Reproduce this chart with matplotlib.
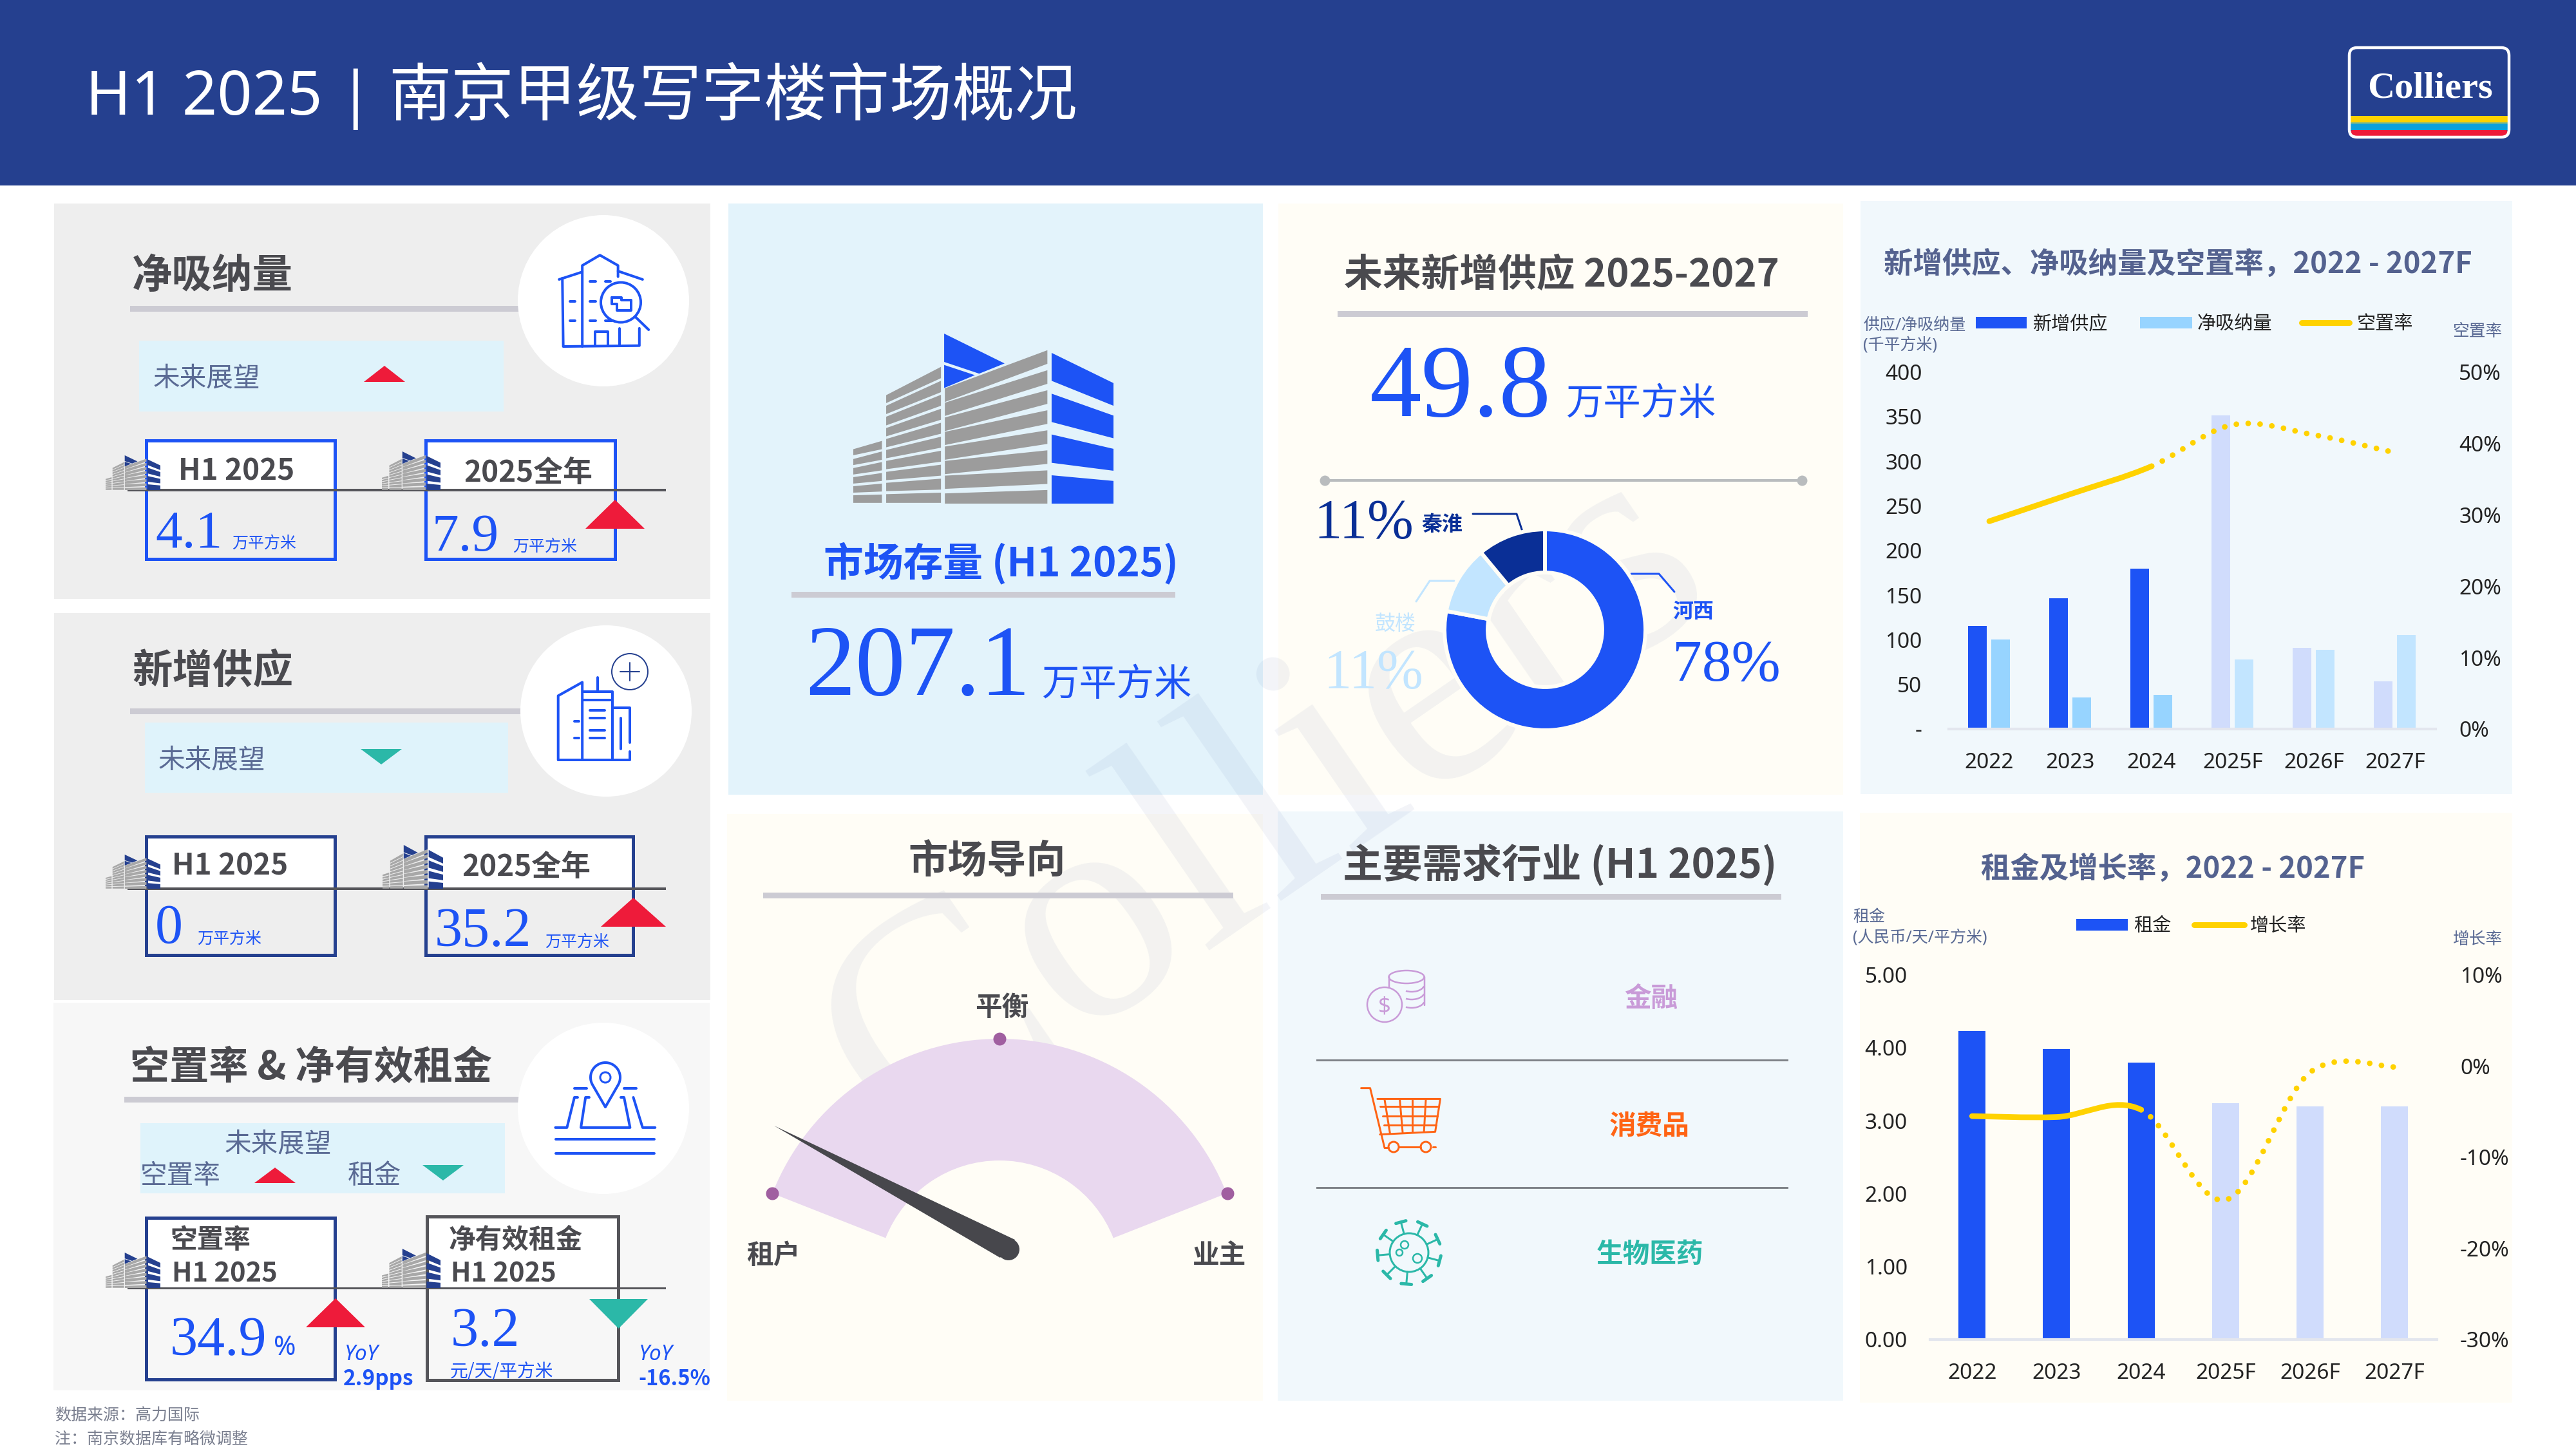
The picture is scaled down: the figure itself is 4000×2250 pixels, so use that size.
import numpy as np
import matplotlib
matplotlib.use('Agg')
import matplotlib.pyplot as plt
from matplotlib.patches import Rectangle, Circle, Ellipse, Polygon, Wedge, PathPatch, FancyBboxPatch, Arc
from matplotlib.path import Path

# chart data
years = ['2022', '2023', '2024', '2025F', '2026F', '2027F']
new_supply = [115.5, 146.5, 180, 351.5, 91, 53.5]
net_absorption = [100, 35.5, 38.5, 78, 89, 105]
vacancy = [29.1, 32.9, 36.8, 42.6, 41.2, 38.7]
rent = [4.23, 3.98, 3.80, 3.24, 3.20, 3.20]
rent_growth = [-5.5, -5.6, -4.8, -14.7, -0.7, -0.1]
n_actual = 3  # 2022-2024 are actuals, the rest are forecast

supply_ticks = [0, 50, 100, 150, 200, 250, 300, 350, 400]
supply_tick_labels = ['-', '50', '100', '150', '200', '250', '300', '350', '400']
vacancy_ticks = [0, 10, 20, 30, 40, 50]
rent_ticks = [0, 1, 2, 3, 4, 5]
growth_ticks = [-30, -20, -10, 0, 10]

district_values = [78, 11, 11]

# colours
NAVY = '#25408F'
BLUE = '#1D53F5'
BLUE_F = '#D0DCFC'
SKY = '#97D4FF'
SKY_F = '#C2E5FF'
DARKBLUE = '#0A2F96'
YELLOW = '#FFD200'
RED = '#EE1B3A'
TEAL = '#2BB8A8'
DARK = '#4A4A4F'
SLATE = '#5A6A94'
TITLE_SLATE = '#54628F'
RULE = '#CCCBD3'
CREAM = '#FFFDF6'
PALE = '#F1F8FC'
OUTLOOK = '#DFF3FB'
LILAC = '#C99BD8'
ORANGE = '#FF6414'

SANS = ['Noto Sans', 'Noto Sans CJK SC']
CJK = ['Noto Sans CJK SC', 'Noto Sans']
SERIF = ['Liberation Serif']

fig = plt.figure(figsize=(40, 22.5), dpi=100, facecolor='white')
ax = fig.add_axes([0, 0, 1, 1])
ax.set_xlim(0, 4000)
ax.set_ylim(2250, 0)
ax.axis('off')


def px(v):
    # pixels to points at dpi 100
    return v * 0.72


def rect(x0, y0, x1, y1, fc, z=1, ec='none', lw=0):
    ax.add_patch(Rectangle((x0, y0), x1 - x0, y1 - y0, facecolor=fc, edgecolor=ec, linewidth=px(lw), zorder=z))


def txt(x, y, s, size, color=DARK, weight='normal', ha='left', va='center', family=SANS, style='normal', z=6):
    if weight == 'bold':
        family = CJK  # Noto Sans has no bold installed
    if va == 'center':
        y = y + 0.13 * size  # bbox centre sits a bit above the glyph centre
    ax.text(x, y, s, fontsize=size, color=color, fontweight=weight, ha=ha, va=va,
            family=family, fontstyle=style, zorder=z)


def tri(x0, x1, y0, y1, up, color):
    if up:
        pts = [(x0, y1), (x1, y1), ((x0 + x1) / 2, y0)]
    else:
        pts = [(x0, y0), (x1, y0), ((x0 + x1) / 2, y1)]
    ax.add_patch(Polygon(pts, closed=True, facecolor=color, edgecolor='none', zorder=5))


def lines(segs, color, lw, ox=0, oy=0, sx=1.0, sy=1.0, z=4):
    # polylines traced in zoomed coordinates, mapped back to the page
    for seg in segs:
        seg = np.array(seg, dtype=float)
        ax.plot(ox + seg[:, 0] / sx, oy + seg[:, 1] / sy, color=color, lw=px(lw), zorder=z,
                solid_capstyle='round', solid_joinstyle='round')


def rule(x0, x1, y, h=9):
    rect(x0, y - h / 2, x1, y + h / 2, RULE, z=2)


# building drawing, in its own 736x450 coordinates
BLUE_PARTS = [
    [(257, 0), (428, 79), (356, 106), (257, 75)],
    [(257, 83), (344, 110), (257, 144)],
    [(561, 51), (736, 131), (736, 191), (561, 125)],
    [(561, 159), (736, 217), (736, 277), (561, 234)],
    [(561, 267), (736, 305), (736, 363), (561, 342)],
    [(561, 375), (736, 390), (736, 450), (561, 450)],
]
center_l = [(145, 181), (183, 218), (222, 258), (260, 295), (299, 334), (337, 372), (376, 411), (423, 450)]
center_r = [(44, 80), (97, 133), (150, 186), (203, 239), (256, 292), (309, 345), (362, 398), (414, 450)]
left_l = [(163, 184), (191, 213), (220, 243), (250, 272), (279, 301), (308, 330), (337, 359), (366, 388), (395, 417), (425, 448)]
left_r = [(88, 118), (125, 155), (162, 191), (199, 228), (236, 265), (273, 302), (310, 339), (347, 376), (384, 413), (421, 448)]
small_l = [(306, 322), (332, 348), (356, 373), (380, 397), (404, 421), (428, 448)]
small_r = [(284, 306), (312, 334), (340, 362), (369, 390), (397, 418), (426, 448)]
GREY_PARTS = []
for a, b in zip(center_l, center_r):
    GREY_PARTS.append([(259, a[0]), (549, b[0]), (549, b[1]), (259, a[1])])
for a, b in zip(left_l, left_r):
    GREY_PARTS.append([(93, a[0]), (248, b[0]), (248, b[1]), (93, a[1])])
for a, b in zip(small_l, small_r):
    GREY_PARTS.append([(0, a[0]), (81, b[0]), (81, b[1]), (0, a[1])])


def building(x0, y0, x1, y1, blue, grey='#9C9C9C', z=4):
    fx = (x1 - x0) / 736
    fy = (y1 - y0) / 450
    for parts, col in ((GREY_PARTS, grey), (BLUE_PARTS, blue)):
        for p in parts:
            pts = [(x0 + a * fx, y0 + b * fy) for a, b in p]
            ax.add_patch(Polygon(pts, closed=True, facecolor=col, edgecolor='none', zorder=z))


def kpi_box(x0, x1, y0, y_line, y1, color, lw=5):
    rect(x0, y0, x1, y_line, 'white', z=2)
    ax.add_patch(Rectangle((x0, y0), x1 - x0, y1 - y0, fill=False, edgecolor=color, linewidth=px(lw), zorder=3))


def smooth_path(xs, ys, i0, i1):
    # same kind of smoothing as a spreadsheet "smoothed line"
    p = np.column_stack([xs, ys]).astype(float)
    m = np.zeros_like(p)
    m[1:-1] = (p[2:] - p[:-2]) / 2
    m[0] = (p[1] - p[0]) / 2
    m[-1] = (p[-1] - p[-2]) / 2
    verts = [tuple(p[i0])]
    codes = [Path.MOVETO]
    for i in range(i0, i1):
        verts += [tuple(p[i] + m[i] / 3), tuple(p[i + 1] - m[i + 1] / 3), tuple(p[i + 1])]
        codes += [Path.CURVE4] * 3
    return Path(verts, codes)


def combo_axes(x0, y0, x1, y1):
    a = fig.add_axes([x0 / 4000, 1 - y1 / 2250, (x1 - x0) / 4000, (y1 - y0) / 2250], facecolor='none', zorder=3)
    a.set_xlim(-0.5, 5.5)
    for s in ('top', 'left', 'right'):
        a.spines[s].set_visible(False)
    a.spines['bottom'].set_color('#E3E6EE')
    a.spines['bottom'].set_linewidth(3)
    a.set_xticks(range(len(years)))
    a.set_xticklabels(years, fontsize=24, color='#222222', family=SANS)
    a.tick_params(axis='x', length=0, pad=26)
    b = a.twinx()
    b.patch.set_visible(False)
    b.set_xlim(-0.5, 5.5)
    for s in b.spines.values():
        s.set_visible(False)
    return a, b


def trend(b, values, lw=6.3):
    xs = np.arange(len(values))
    b.add_patch(PathPatch(smooth_path(xs, values, 0, n_actual - 1), fill=False, edgecolor=YELLOW,
                          linewidth=lw, capstyle='round'))
    b.add_patch(PathPatch(smooth_path(xs, values, n_actual - 1, len(values) - 1), fill=False, edgecolor=YELLOW,
                          linewidth=lw, capstyle='round', linestyle=(0, (0.01, 2.1))))


# header
rect(0, 0, 4000, 288, NAVY)
txt(133, 145, 'H1 2025', 68.5, 'white')
txt(552, 145, '|', 68.5, 'white', ha='center')
txt(603, 145, '南京甲级写字楼市场概况', 70, 'white')

# logo
rect(3650, 180, 3894, 190, YELLOW, z=3)
rect(3650, 190, 3894, 192, '#7DB88A', z=3)
rect(3650, 192, 3894, 202, '#0DA0DC', z=3)
ax.add_patch(FancyBboxPatch((3650, 202), 244, 9, boxstyle='round,pad=0,rounding_size=3', facecolor=RED, edgecolor='none', zorder=3))
ax.add_patch(FancyBboxPatch((3648, 74), 248, 139, boxstyle='round,pad=0,rounding_size=12', fill=False,
                            edgecolor='white', linewidth=px(4.5), zorder=4))
ax.text(3773, 152, 'Colliers', fontsize=42, color='white', fontweight='bold', ha='center', va='baseline', family=SERIF, zorder=6)

# panels
rect(84, 316, 1103, 930, '#EEEEEE')
rect(84, 952, 1103, 1553, '#EEEEEE')
rect(83, 1557, 1102, 2159, '#F7F7F7')
rect(1131, 316, 1961, 1234, '#E3F3FB')
rect(1985, 316, 2862, 1234, CREAM)
rect(2889, 312, 3901, 1233, PALE)
rect(1129, 1264, 1961, 2175, CREAM)
rect(1984, 1260, 2862, 2175, PALE)
rect(2888, 1262, 3901, 2178, CREAM)

# watermark
ax.text(2033, 1355, 'Colliers', fontsize=351, family=SERIF, color='#25408F', alpha=0.06,
        rotation=34.6, rotation_mode='anchor', ha='center', va='baseline', zorder=1.5)

# net absorption panel
txt(205, 423, '净吸纳量', 45, weight='bold')
rule(202, 806, 479)
ax.add_patch(Circle((937, 467), 133, facecolor='white', edgecolor='none', zorder=3))
rect(216, 529, 782, 639, OUTLOOK, z=2)
txt(238, 584, '未来展望', 30, SLATE, family=CJK)
tri(565, 629, 568, 593, True, RED)
kpi_box(227, 520, 684, 761, 868, BLUE)
kpi_box(661, 955, 684, 761, 868, BLUE)
rect(198, 759, 1034, 763, '#55555A', z=4)
building(164, 707, 249, 761, NAVY, grey='#A8A8A8')
building(593, 701, 684, 761, NAVY, grey='#A8A8A8')
txt(277, 728, 'H1 2025', 33, weight='bold')
txt(720, 731, '2025全年', 33, weight='bold')
txt(241, 850, '4.1', 60, BLUE, va='baseline', family=SERIF)
txt(360, 841, '万平方米', 18, BLUE, family=CJK)
txt(670, 855, '7.9', 60, BLUE, va='baseline', family=SERIF)
txt(796, 846, '万平方米', 18, BLUE, family=CJK)
tri(909, 1001, 776, 821, True, RED)

# icon: building with magnifier
Z1 = dict(ox=0, oy=280, sx=1.388, sy=2.306)
lines([[(1205, 355), (1255, 328)], [(1212, 350), (1214, 595), (1378, 592), (1378, 530)],
       [(1255, 595), (1255, 305), (1293, 268), (1332, 305), (1332, 345)], [(1332, 325), (1385, 355)],
       [(1282, 590), (1282, 543), (1310, 543), (1310, 590)], [(1335, 590), (1335, 530)],
       [(1228, 433), (1240, 433)], [(1272, 433), (1284, 433)], [(1228, 503), (1240, 503)],
       [(1272, 503), (1284, 503)], [(1272, 363), (1284, 363)], [(1305, 363), (1316, 363)],
       [(1305, 502), (1318, 502)], [(1370, 490), (1398, 535)],
       [(1318, 420), (1340, 420), (1340, 430), (1360, 430), (1360, 465), (1330, 465), (1330, 442), (1318, 442), (1318, 420)]],
      BLUE, 4, z=5, **Z1)
ax.add_patch(Circle((964, 469.5), 31, fill=False, edgecolor=BLUE, linewidth=px(4), zorder=5))

# new supply panel
txt(205, 1037, '新增供应', 45, weight='bold')
rule(202, 810, 1104)
ax.add_patch(Circle((941, 1104), 133, facecolor='white', edgecolor='none', zorder=3))
rect(225, 1122, 789, 1231, OUTLOOK, z=2)
txt(246, 1177, '未来展望', 30, SLATE, family=CJK)
tri(560, 624, 1163, 1187, False, TEAL)
kpi_box(227, 520, 1299, 1380, 1483, NAVY)
kpi_box(661, 983, 1299, 1380, 1483, NAVY)
rect(198, 1378, 1034, 1382, '#55555A', z=4)
building(164, 1327, 249, 1380, NAVY, grey='#A8A8A8')
building(594, 1312, 688, 1380, NAVY, grey='#A8A8A8')
txt(267, 1341, 'H1 2025', 33, weight='bold')
txt(717, 1343, '2025全年', 33, weight='bold')
txt(241, 1464, '0', 62, BLUE, va='baseline', family=SERIF)
txt(306, 1455, '万平方米', 18, BLUE, family=CJK)
txt(675, 1469, '35.2', 62, BLUE, va='baseline', family=SERIF)
txt(846, 1460, '万平方米', 18, BLUE, family=CJK)
tri(933, 1034, 1394, 1439, True, RED)

# icon: tower with plus
Z2 = dict(ox=0, oy=940, sx=1.388, sy=2.529)
lines([[(1203, 607), (1358, 607), (1358, 575)], [(1203, 607), (1203, 355), (1255, 302), (1255, 605)],
       [(1258, 340), (1320, 340), (1320, 605)], [(1258, 372), (1320, 372)], [(1288, 283), (1288, 340)],
       [(1320, 402), (1358, 402), (1358, 538)], [(1338, 442), (1338, 565)],
       [(1272, 411), (1303, 411)], [(1272, 443), (1303, 443)], [(1272, 491), (1303, 491)], [(1272, 522), (1303, 522)],
       [(1238, 456), (1248, 456)], [(1238, 522), (1248, 522)]], BLUE, 4, z=5, **Z2)
lines([[(1337, 260), (1378, 260)], [(1357, 225), (1357, 295)]], NAVY, 2, z=5, **Z2)
ax.add_patch(Circle((978, 1043), 28, fill=False, edgecolor=NAVY, linewidth=px(2), zorder=5))

# vacancy and rent panel
txt(202, 1652, '空置率 & 净有效租金', 44, weight='bold')
rule(193, 806, 1707)
ax.add_patch(Circle((937, 1721), 133, facecolor='white', edgecolor='none', zorder=3))
rect(218, 1744, 784, 1853, OUTLOOK, z=2)
txt(349, 1773, '未来展望', 30, SLATE, family=CJK)
txt(218, 1823, '空置率', 30, SLATE, family=CJK)
tri(395, 459, 1813, 1837, True, RED)
txt(540, 1823, '租金', 30, SLATE, family=CJK)
tri(656, 720, 1809, 1833, False, TEAL)
kpi_box(227, 520, 1891, 2000, 2142, NAVY)
kpi_box(663, 960, 1889, 2000, 2143, '#55555A')
rect(198, 1998.5, 1034, 2001.5, '#55555A', z=4)
building(164, 1945, 249, 2000, NAVY, grey='#A8A8A8')
building(593, 1939, 684, 2000, NAVY, grey='#A8A8A8')
txt(264, 1922, '空置率', 30, weight='bold')
txt(267, 1975, 'H1 2025', 30, weight='bold')
txt(697, 1922, '净有效租金', 30, weight='bold')
txt(700, 1975, 'H1 2025', 30, weight='bold')
txt(264, 2104, '34.9', 62, BLUE, va='baseline', family=SERIF)
txt(425, 2104, '%', 30, BLUE, va='baseline')
txt(700, 2090, '3.2', 62, BLUE, va='baseline', family=SERIF)
txt(699, 2127, '元/天/平方米', 20, BLUE, family=CJK)
tri(475, 567, 2016, 2061, True, RED)
tri(915, 1006, 2017, 2063, False, TEAL)
txt(535, 2100, 'YoY', 24, BLUE, style='italic')
txt(533, 2138, '2.9pps', 24, BLUE, weight='bold')
txt(992, 2100, 'YoY', 24, BLUE, style='italic')
txt(991, 2138, '-16.5%', 23.5, BLUE, weight='bold')

# icon: location pin over road
Z3 = dict(ox=0, oy=1550, sx=1.388, sy=2.24)
lines([[(1238, 313), (1265, 313)], [(1345, 313), (1372, 313)],
       [(1197, 450), (1222, 450), (1238, 345), (1245, 345)], [(1270, 345), (1262, 345), (1252, 450), (1358, 450), (1345, 345), (1338, 345)],
       [(1365, 345), (1385, 450), (1412, 450)], [(1198, 490), (1410, 490)], [(1198, 540), (1410, 540)]],
      BLUE, 4, z=5, **Z3)
pin_t = np.radians(np.linspace(-30, 210, 40))
pin_x = 940 + 23 * np.cos(pin_t)
pin_y = 1673 - 23 * np.sin(pin_t)
ax.add_patch(Polygon(np.column_stack([np.r_[940, pin_x], np.r_[1719, pin_y]]), closed=True, facecolor='white',
                     edgecolor=BLUE, linewidth=px(4), joinstyle='round', zorder=5))
ax.add_patch(Circle((940, 1673), 8, fill=False, edgecolor=BLUE, linewidth=px(3), zorder=6))

# footer
txt(85, 2195, '数据来源：高力国际', 18, '#7A7F8F', family=CJK)
txt(85, 2233, '注：南京数据库有略微调整', 18, '#7A7F8F', family=CJK, style='italic')

# stock panel
building(1325, 518, 1729, 782, BLUE)
txt(1279, 869, '市场存量 (H1 2025)', 44.5, BLUE, weight='bold')
rule(1229, 1825, 923)
txt(1250, 1079, '207.1', 112, BLUE, va='baseline', family=SERIF)
txt(1617, 1058, '万平方米', 42, BLUE, family=CJK)

# future supply panel
txt(2087, 422, '未来新增供应 2025-2027', 43, weight='bold')
rule(2077, 2807, 487)
txt(2127, 646, '49.8', 116, BLUE, va='baseline', family=SERIF)
txt(2431, 622, '万平方米', 42, BLUE, family=CJK)
ax.plot([2057, 2798], [746, 746], color='#B9BCBE', lw=px(4), zorder=3)
ax.plot([2057, 2798], [746, 746], 'o', color='#B9BCBE', ms=px(16), mec='none', zorder=3)

ax_donut = fig.add_axes([(2399 - 156) / 4000, 1 - (978 + 156) / 2250, 312 / 4000, 312 / 2250], facecolor='none', zorder=3)
ax_donut.pie(district_values, colors=[BLUE, SKY_F, DARKBLUE], startangle=90, counterclock=False, radius=1.0,
             wedgeprops=dict(width=0.43, edgecolor=CREAM, linewidth=px(6)))
ax_donut.set_xlim(-1, 1)
ax_donut.set_ylim(-1, 1)

txt(2040, 835, '11%', 62, DARKBLUE, va='baseline', family=SERIF)
txt(2207, 812, '秦淮', 23, DARKBLUE, weight='bold')
lines([[(2287, 798), (2355, 798), (2365, 828)]], DARKBLUE, 3, z=4)
lines([[(2533, 891), (2576, 891), (2600, 919)]], BLUE, 3, z=4)
txt(2597, 947, '河西', 23, BLUE, weight='bold')
txt(2597, 1057, '78%', 66, BLUE, va='baseline', family=SERIF)
lines([[(2258, 902), (2220, 902), (2199, 934)]], SKY_F, 3, z=4)
txt(2135, 966, '鼓楼', 23, SKY_F, family=CJK)
txt(2055, 1068, '11%', 62, SKY_F, va='baseline', family=SERIF)

# market orientation gauge
txt(1533, 1333, '市场导向', 44, weight='bold', ha='center')
rule(1185, 1915, 1390)
ax.add_patch(Wedge((1552, 1992), 379, -158.5, -21.5, width=189, facecolor='#E9D8EF', edgecolor='none', zorder=3))
ax.plot([1199, 1552, 1906], [1853, 1613, 1853], 'o', color='#A05FA0', ms=px(20), mec='none', zorder=4)
txt(1556, 1561, '平衡', 30, weight='bold', ha='center')
txt(1201, 1946, '租户', 30, weight='bold', ha='center')
txt(1893, 1946, '业主', 30, weight='bold', ha='center')
ax.add_patch(Polygon([(1202, 1748), (1576, 1925), (1553, 1953)], closed=True, facecolor='#47474C', edgecolor='none', zorder=5))
ax.add_patch(Circle((1566, 1940), 17, facecolor='#47474C', edgecolor='none', zorder=5))

# demand sectors
txt(2085, 1338, '主要需求行业 (H1 2025)', 44.5, weight='bold')
rule(2051, 2766, 1392)
rect(2044, 1644.5, 2777, 1647.5, '#7F8388', z=2)
rect(2044, 1842.5, 2777, 1845.5, '#7F8388', z=2)
txt(2564, 1547, '金融', 30, LILAC, weight='bold', ha='center')
txt(2561, 1745, '消费品', 30, ORANGE, weight='bold', ha='center')
txt(2562, 1944, '生物医药', 30, TEAL, weight='bold', ha='center')

# coins icon
Z9 = dict(ox=1980, oy=1240, sx=1.782, sy=1.668)
ax.add_patch(Circle((2150, 1560), 27, fill=False, edgecolor=LILAC, linewidth=px(2.5), zorder=4))
txt(2150, 1560, '$', 25, LILAC, ha='center')
ax.add_patch(Ellipse((2184, 1517), 55, 20, fill=False, edgecolor=LILAC, linewidth=px(2.5), zorder=4))
lines([[(316, 462), (316, 488)], [(413, 462), (413, 535)]], LILAC, 2.5, **Z9)
for band_y in [1540, 1552, 1565]:
    ax.add_patch(Arc((2192, band_y - 12), 40, 24, theta1=10, theta2=130, edgecolor=LILAC, linewidth=px(2.5), zorder=4))

# cart icon
lines([[(238, 750), (263, 750), (303, 905), (315, 905)],
       [(283, 778), (457, 778), (443, 863), (290, 870)],
       [(290, 798), (453, 798)], [(297, 822), (449, 822)], [(302, 845), (445, 845)],
       [(303, 780), (318, 868)], [(345, 780), (353, 866)], [(380, 780), (380, 864)], [(417, 780), (412, 862)],
       [(342, 902), (403, 902)], [(437, 902), (444, 902)]], ORANGE, 3, **Z9)
for wheel_x in [2164, 2214]:
    ax.add_patch(Circle((wheel_x, 1781), 8, fill=False, edgecolor=ORANGE, linewidth=px(3), zorder=4))

# virus icon
vc = (2188, 1945)
ax.add_patch(Circle(vc, 30, fill=False, edgecolor=TEAL, linewidth=px(3), zorder=4))
for deg in np.arange(0, 360, 40) + 15:
    u = np.array([np.cos(np.radians(deg)), np.sin(np.radians(deg))])
    n = np.array([-u[1], u[0]])
    a = np.array(vc) + u * 30
    b = np.array(vc) + u * 49
    lines([[a, b]], TEAL, 3)
    lines([[b - n * 8, b + n * 8]], TEAL, 5)
for cx, cy, r in [(2181, 1933, 6), (2173, 1945, 5), (2201, 1954, 7)]:
    ax.add_patch(Circle((cx, cy), r, fill=False, edgecolor=TEAL, linewidth=px(2.5), zorder=4))

# supply, absorption and vacancy chart
txt(2925, 407, '新增供应、净吸纳量及空置率，2022 - 2027F', 32.7, TITLE_SLATE, weight='bold')
txt(2893, 503, '供应/净吸纳量', 18, SLATE)
txt(2893, 533, '(千平方米)', 18, SLATE)
txt(3808, 513, '空置率', 18.5, SLATE)
rect(3068, 492, 3147, 510, BLUE, z=3)
txt(3157, 501, '新增供应', 21, '#222222')
rect(3323, 492, 3404, 510, SKY, z=3)
txt(3412, 501, '净吸纳量', 21, '#222222')
ax.plot([3574, 3648], [501, 501], color=YELLOW, lw=px(9), solid_capstyle='round', zorder=3)
txt(3660, 501, '空置率', 21, '#222222')

a1, b1 = combo_axes(3026, 577.6, 3782, 1132)
x = np.arange(len(years))
supply_cols = [BLUE if i < n_actual else BLUE_F for i in x]
net_cols = [SKY if i < n_actual else SKY_F for i in x]
a1.bar(x - 0.145, new_supply, 0.226, color=supply_cols)
a1.bar(x + 0.14, net_absorption, 0.226, color=net_cols)
a1.set_ylim(0, 400)
a1.set_yticks(supply_ticks)
a1.set_yticklabels(supply_tick_labels, fontsize=24, color='#222222', family=SANS)
a1.tick_params(axis='y', length=0, pad=30)
b1.set_ylim(0, 50)
b1.set_yticks(vacancy_ticks)
b1.set_yticklabels([f'{v}%' for v in vacancy_ticks], fontsize=24, color='#222222', family=SANS)
b1.tick_params(axis='y', length=0, pad=26)
trend(b1, vacancy)

# rent and growth chart
txt(3076, 1346, '租金及增长率，2022 - 2027F', 32.7, TITLE_SLATE, weight='bold')
txt(2877, 1422, '租金', 18, SLATE)
txt(2877, 1453, '(人民币/天/平方米)', 18, SLATE)
txt(3809, 1457, '增长率', 18.5, SLATE)
rect(3224, 1427, 3304, 1445, BLUE, z=3)
txt(3313, 1436, '租金', 21, '#222222')
ax.plot([3407, 3485], [1436, 1436], color=YELLOW, lw=px(9), solid_capstyle='round', zorder=3)
txt(3494, 1436, '增长率', 21, '#222222')

a2, b2 = combo_axes(2996.6, 1513.8, 3784, 2079.7)
rent_cols = [BLUE if i < n_actual else BLUE_F for i in x]
a2.bar(x, rent, 0.32, color=rent_cols)
a2.set_ylim(0, 5)
a2.set_yticks(rent_ticks)
a2.set_yticklabels([f'{v:.2f}' for v in rent_ticks], fontsize=24, color='#222222', family=SANS)
a2.tick_params(axis='y', length=0, pad=25)
b2.set_ylim(-30, 10)
b2.set_yticks(growth_ticks)
b2.set_yticklabels([f'{v}%' for v in growth_ticks], fontsize=24, color='#222222', family=SANS)
b2.tick_params(axis='y', length=0, pad=26)
trend(b2, rent_growth)

fig.savefig('out.png', dpi=100)
